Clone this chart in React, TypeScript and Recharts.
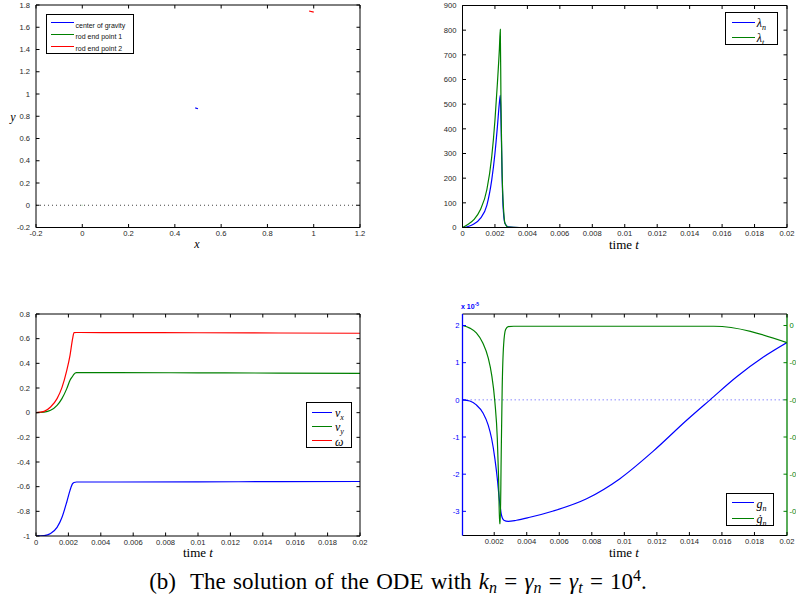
import React from "react";
import { LineChart, Line, XAxis, YAxis, ReferenceLine, Legend } from "recharts";

// (a) positions in the plane
const cgX = [0.488, 0.5];
const cgY = [0.875, 0.867];
const end1X = [-0.002, 0];
const end1Y = [0, 0];
const end2X = [0.98, 1.0];
const end2Y = [1.746, 1.736];

// contact forces
const lamTime = [0, 0.0003, 0.0007, 0.0011, 0.0015, 0.0018, 0.002, 0.00215, 0.00227, 0.00233, 0.00237, 0.0024, 0.00244, 0.00248, 0.00253, 0.00262, 0.0028, 0.0035, 0.02];
const lamN = [0, 3, 14, 37, 90, 192, 300, 408, 503, 536, 440, 350, 210, 115, 57, 16, 3, 0, 0];
const lamT = [0, 11, 32, 72, 153, 286, 435, 584, 719, 803, 516, 380, 225, 140, 75, 16, 2, 0, 0];

// velocities
const velTime = [0, 0.0005, 0.0009, 0.0013, 0.0016, 0.0019, 0.0021, 0.00226, 0.00235, 0.0025, 0.0027, 0.005, 0.01, 0.015, 0.02];
const vx = [-1, -0.997, -0.98, -0.93, -0.85, -0.724, -0.63, -0.576, -0.566, -0.562, -0.562, -0.562, -0.561, -0.559, -0.558];
const vy = [0, 0.004, 0.019, 0.059, 0.114, 0.195, 0.262, 0.295, 0.313, 0.324, 0.325, 0.325, 0.323, 0.321, 0.318];
const omega = [0, 0.011, 0.046, 0.114, 0.203, 0.343, 0.465, 0.6, 0.649, 0.65, 0.65, 0.649, 0.648, 0.646, 0.644];

// gap (x 1e-5) and gap rate
const gnTime = [0.00005, 0.0005, 0.0009, 0.00132, 0.00163, 0.00184, 0.00204, 0.00219, 0.00231, 0.00245, 0.00259, 0.00286, 0.00337, 0.00419, 0.00563, 0.00768, 0.00973, 0.01178, 0.01383, 0.01527, 0.01691, 0.01855, 0.02];
const gn = [0, -0.03, -0.135, -0.36, -0.68, -1.04, -1.58, -2.12, -2.66, -3.11, -3.24, -3.27, -3.24, -3.16, -2.99, -2.66, -2.12, -1.38, -0.55, 0, 0.62, 1.15, 1.54];
const gdTime = [0.00005, 0.0005, 0.0009, 0.0013, 0.00163, 0.00184, 0.00204, 0.00219, 0.00227, 0.00233, 0.00237, 0.00243, 0.00249, 0.00258, 0.0027, 0.00286, 0.0032, 0.0155, 0.02];
const gd = [0, -0.007, -0.02, -0.047, -0.087, -0.132, -0.205, -0.304, -0.412, -0.533, -0.533, -0.348, -0.168, -0.051, -0.011, -0.003, -0.002, -0.002, -0.046];

const posTicksX = [-0.2, 0, 0.2, 0.4, 0.6, 0.8, 1, 1.2];
const posTicksY = [-0.2, 0, 0.2, 0.4, 0.6, 0.8, 1, 1.2, 1.4, 1.6, 1.8];
const timeTicks = [0, 0.002, 0.004, 0.006, 0.008, 0.01, 0.012, 0.014, 0.016, 0.018, 0.02];
const timeTicks2 = [0.002, 0.004, 0.006, 0.008, 0.01, 0.012, 0.014, 0.016, 0.018, 0.02];
const lamTicks = [0, 100, 200, 300, 400, 500, 600, 700, 800, 900];
const velTicks = [-1, -0.8, -0.6, -0.4, -0.2, 0, 0.2, 0.4, 0.6, 0.8];
const gnTicks = [-3, -2, -1, 0, 1, 2];
const gdTicks = [-0.5, -0.4, -0.3, -0.2, -0.1, 0];

const BLUE = "#0000ff";
const GREEN = "#008000";
const RED = "#ff0000";
const AX = "#000";
const TXT = "#262626";
const SANS = '"Liberation Sans", Arial, sans-serif';
const SERIF = '"Liberation Serif", "Times New Roman", serif';

const zip = (xs: number[], ys: number[], kx: string) => xs.map((x, i) => ({ [kx]: x, v: ys[i] }));
const fmt = (v: number) => String(parseFloat(v.toFixed(4)));

function MatTick(props: any) {
  const { x, y, payload, side, color = AX, textColor = TXT, label = true, gap = 5 } = props;
  const L = 3.5;
  const s = fmt(payload.value);
  const ts = { fontFamily: SANS, fontSize: 7.6, fill: textColor };
  let line = null;
  let text = null;
  if (side === "bottom") {
    line = <line x1={x} y1={y} x2={x} y2={y - L} stroke={color} />;
    if (label) text = <text x={x} y={y + 8.6} textAnchor="middle" style={ts}>{s}</text>;
  } else if (side === "top") {
    line = <line x1={x} y1={y} x2={x} y2={y + L} stroke={color} />;
  } else if (side === "left") {
    line = <line x1={x} y1={y} x2={x + L} y2={y} stroke={color} />;
    if (label) text = <text x={x - gap} y={y + 2.7} textAnchor="end" style={ts}>{s}</text>;
  } else {
    line = <line x1={x} y1={y} x2={x - L} y2={y} stroke={color} />;
    if (label) text = <text x={x + gap} y={y + 2.7} textAnchor="start" style={ts}>{s}</text>;
  }
  return <g>{line}{text}</g>;
}

function MatLegend(props: any) {
  const { order, colors, labels, rowH, padTop, lineX, lineLen, textGap } = props;
  return (
    <div style={{ width: "100%", height: "100%", boxSizing: "border-box", border: "1px solid #000", background: "#fff", paddingTop: padTop }}>
      {order.map((name: string) => (
        <div key={name} style={{ height: rowH, display: "flex", alignItems: "center" }}>
          <div style={{ marginLeft: lineX, width: lineLen, height: 1, background: colors[name] }} />
          <span style={{ marginLeft: textGap, lineHeight: 1, whiteSpace: "nowrap" }}>{labels[name]}</span>
        </div>
      ))}
    </div>
  );
}

const small = (s: string) => <span style={{ fontFamily: SANS, fontSize: 7, color: "#111" }}>{s}</span>;
const mathSub = (base: string, sub: string) => (
  <span style={{ fontFamily: SERIF, fontStyle: "italic", fontSize: 12, color: "#000" }}>
    {base}
    <span style={{ fontSize: 8, position: "relative", top: 3 }}>{sub}</span>
  </span>
);

function Txt({ x, y, children, size = 13 }: any) {
  return (
    <div style={{ position: "absolute", left: x, top: y, transform: "translate(-50%, -50%)", fontFamily: SERIF, fontSize: size, whiteSpace: "nowrap", lineHeight: 1 }}>
      {children}
    </div>
  );
}

// axes are 1px thick so that recharts draws them; the margins account for it
function boxAxes(domX: number[], ticksX: number[], domY: number[], ticksY: number[], dataKeyX: string) {
  return [
    <XAxis key="xb" dataKey={dataKeyX} type="number" domain={domX} ticks={ticksX} interval={0} height={1} tickSize={0} tickMargin={0} allowDataOverflow axisLine={{ stroke: AX }} tickLine={false} tick={<MatTick side="bottom" />} />,
    <XAxis key="xt" xAxisId="top" orientation="top" dataKey={dataKeyX} type="number" domain={domX} ticks={ticksX} interval={0} height={1} tickSize={0} tickMargin={0} allowDataOverflow axisLine={{ stroke: AX }} tickLine={false} tick={<MatTick side="top" />} />,
    <YAxis key="yl" type="number" domain={domY} ticks={ticksY} interval={0} width={1} tickSize={0} tickMargin={0} allowDataOverflow axisLine={{ stroke: AX }} tickLine={false} tick={<MatTick side="left" gap={6} />} />,
    <YAxis key="yr" yAxisId="right" orientation="right" type="number" domain={domY} ticks={ticksY} interval={0} width={1} tickSize={0} tickMargin={0} allowDataOverflow axisLine={{ stroke: AX }} tickLine={false} tick={<MatTick side="right" label={false} />} />,
  ];
}

const lineProps = { dot: false, activeDot: false, isAnimationActive: false, strokeWidth: 1.2 } as const;
const subSt = { fontSize: 16, fontStyle: "italic", position: "relative", top: 4 } as const;

export default function App() {
  const lamNData = zip(lamTime, lamN, "t");
  const lamTData = zip(lamTime, lamT, "t");
  const vxData = zip(velTime, vx, "t");
  const vyData = zip(velTime, vy, "t");
  const omData = zip(velTime, omega, "t");
  const gnData = zip(gnTime, gn, "t");
  const gdData = zip(gdTime, gd, "t");

  return (
    <div style={{ position: "absolute", left: 0, top: 0, width: 796, height: 597, background: "#fff", overflow: "hidden" }}>
      {/* positions */}
      <div style={{ position: "absolute", left: 0, top: 0 }}>
        <LineChart width={370} height={250} margin={{ top: 4, left: 35, right: 9, bottom: 21.5 }}>
          {boxAxes([-0.2, 1.2], posTicksX, [-0.2, 1.8], posTicksY, "x")}
          <ReferenceLine y={0} stroke="#444" strokeDasharray="1 3" />
          <Line data={zip(cgX, cgY, "x")} dataKey="v" name="center of gravity" stroke={BLUE} type="linear" {...lineProps} />
          <Line data={zip(end1X, end1Y, "x")} dataKey="v" name="rod end point 1" stroke={GREEN} type="linear" {...lineProps} />
          <Line data={zip(end2X, end2Y, "x")} dataKey="v" name="rod end point 2" stroke={RED} type="linear" {...lineProps} />
          <Legend layout="vertical" align="center" verticalAlign="middle" wrapperStyle={{ left: 46, top: 14, width: 88, height: 40 }}
            content={() => (
              <MatLegend order={["cg", "e1", "e2"]} colors={{ cg: BLUE, e1: GREEN, e2: RED }}
                labels={{ cg: small("center of gravity"), e1: small("rod end point 1"), e2: small("rod end point 2") }}
                rowH={11.8} padTop={1.6} lineX={4} lineLen={22.5} textGap={2} />
            )} />
        </LineChart>
      </div>

      {/* contact forces */}
      <div style={{ position: "absolute", left: 420, top: 0 }}>
        <LineChart width={376} height={250} margin={{ top: 4.5, left: 41.5, right: 8, bottom: 21.5 }}>
          {boxAxes([0, 0.02], timeTicks, [0, 900], lamTicks, "t")}
          <Line data={lamNData} dataKey="v" name="ln" stroke={BLUE} type="monotone" {...lineProps} />
          <Line data={lamTData} dataKey="v" name="lt" stroke={GREEN} type="monotone" {...lineProps} />
          <Legend layout="vertical" align="center" verticalAlign="middle" wrapperStyle={{ left: 305.3, top: 12.3, width: 53, height: 33 }}
            content={() => (
              <MatLegend order={["ln", "lt"]} colors={{ ln: BLUE, lt: GREEN }} labels={{ ln: mathSub("λ", "n"), lt: mathSub("λ", "t") }}
                rowH={15} padTop={1.5} lineX={5.5} lineLen={23} textGap={2} />
            )} />
        </LineChart>
      </div>

      {/* velocities */}
      <div style={{ position: "absolute", left: 0, top: 300 }}>
        <LineChart width={370} height={260} margin={{ top: 13, left: 35, right: 9, bottom: 23 }}>
          {boxAxes([0, 0.02], timeTicks, [-1, 0.8], velTicks, "t")}
          <Line data={vxData} dataKey="v" name="vx" stroke={BLUE} type="monotone" {...lineProps} />
          <Line data={vyData} dataKey="v" name="vy" stroke={GREEN} type="monotone" {...lineProps} />
          <Line data={omData} dataKey="v" name="w" stroke={RED} type="monotone" {...lineProps} />
          <Legend layout="vertical" align="center" verticalAlign="middle" wrapperStyle={{ left: 306, top: 101.7, width: 46.3, height: 46.6 }}
            content={() => (
              <MatLegend order={["vx", "vy", "w"]} colors={{ vx: BLUE, vy: GREEN, w: RED }}
                labels={{ vx: mathSub("v", "x"), vy: mathSub("v", "y"), w: mathSub("ω", "") }}
                rowH={14.2} padTop={2.5} lineX={5} lineLen={20} textGap={3} />
            )} />
        </LineChart>
      </div>

      {/* gap and gap rate */}
      <div style={{ position: "absolute", left: 420, top: 295 }}>
        <LineChart width={376} height={265} margin={{ top: 18, left: 41.5, right: 8, bottom: 23.5 }}>
          <XAxis dataKey="t" type="number" domain={[0.00005, 0.02]} ticks={timeTicks2} interval={0} height={1} tickSize={0} tickMargin={0} allowDataOverflow axisLine={{ stroke: AX }} tickLine={false} tick={<MatTick side="bottom" />} />
          <XAxis xAxisId="top" orientation="top" dataKey="t" type="number" domain={[0.00005, 0.02]} ticks={timeTicks2} interval={0} height={1} tickSize={0} tickMargin={0} allowDataOverflow axisLine={{ stroke: AX }} tickLine={false} tick={<MatTick side="top" />} />
          <YAxis yAxisId="L" type="number" domain={[-3.65, 2.31]} ticks={gnTicks} interval={0} width={1} tickSize={0} tickMargin={0} allowDataOverflow axisLine={{ stroke: BLUE, strokeWidth: 1.3 }} tickLine={false} tick={<MatTick side="left" color={BLUE} textColor={BLUE} gap={3} />} />
          <YAxis yAxisId="R" orientation="right" type="number" domain={[-0.565, 0.031]} ticks={gdTicks} interval={0} width={1} tickSize={0} tickMargin={0} allowDataOverflow axisLine={{ stroke: GREEN, strokeWidth: 1.3 }} tickLine={false} tick={<MatTick side="right" color={GREEN} textColor={GREEN} gap={2.5} />} />
          <ReferenceLine yAxisId="L" y={0} stroke="#8c8cff" strokeDasharray="1.5 2.5" />
          <Line yAxisId="L" data={gnData} dataKey="v" name="gn" stroke={BLUE} type="monotone" {...lineProps} />
          <Line yAxisId="R" data={gdData} dataKey="v" name="gd" stroke={GREEN} type="monotone" {...lineProps} />
          <Legend layout="vertical" align="center" verticalAlign="middle" wrapperStyle={{ left: 306, top: 198, width: 48, height: 33 }}
            content={() => (
              <MatLegend order={["gn", "gd"]} colors={{ gn: BLUE, gd: GREEN }} labels={{ gn: mathSub("g", "n"), gd: mathSub("ġ", "n") }}
                rowH={15.4} padTop={1} lineX={5} lineLen={21.6} textGap={3} />
            )} />
        </LineChart>
      </div>

      {/* exponent note of the left axis */}
      <div style={{ position: "absolute", left: 461, top: 303, fontFamily: SANS, fontSize: 7, fontWeight: "bold", color: BLUE, lineHeight: 1, whiteSpace: "nowrap" }}>
        x 10<span style={{ fontSize: 5, position: "relative", top: -3 }}>-5</span>
      </div>

      {/* axis labels */}
      <Txt x={13} y={117} size={12}><i>y</i></Txt>
      <Txt x={197} y={244} size={12}><i>x</i></Txt>
      <Txt x={624} y={244}>time <i>t</i></Txt>
      <Txt x={198} y={552}>time <i>t</i></Txt>
      <Txt x={624} y={552}>time <i>t</i></Txt>

      {/* caption */}
      <div style={{ position: "absolute", left: 0, top: 570, width: 796, textAlign: "center", fontFamily: SERIF, fontSize: 23, lineHeight: "24px", wordSpacing: 1.5, whiteSpace: "nowrap" }}>
        (b)&nbsp; The solution of the ODE with <i>k</i><span style={subSt}>n</span> = <i>γ</i><span style={subSt}>n</span> = <i>γ</i><span style={subSt}>t</span> = 10<span style={{ fontSize: 16, position: "relative", top: -8 }}>4</span>.
      </div>
    </div>
  );
}
